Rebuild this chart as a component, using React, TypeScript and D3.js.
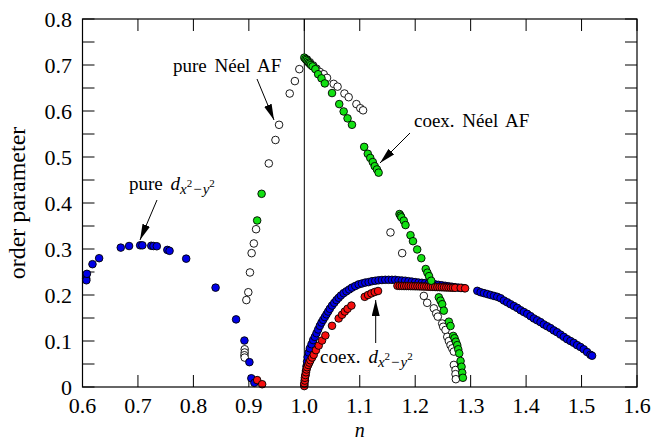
import React, { useEffect, useRef } from 'react';
import * as d3 from 'd3';

// [n, order parameter]
const pureD: [number, number][] = [
  [0.6067, 0.236], [0.607, 0.232], [0.608, 0.246], [0.618, 0.267], [0.63, 0.28],
  [0.669, 0.303], [0.684, 0.3065], [0.704, 0.308], [0.708, 0.308], [0.724, 0.307],
  [0.728, 0.3065], [0.734, 0.306], [0.753, 0.298], [0.757, 0.296], [0.787, 0.279],
  [0.84, 0.216], [0.877, 0.147], [0.892, 0.101], [0.901, 0.054], [0.9045, 0.019], [0.91, 0.009],
  [1.0, 0.005], [1.001, 0.015], [1.002, 0.025], [1.003, 0.035], [1.004, 0.045], [1.005, 0.055],
  [1.006, 0.065], [1.008, 0.075], [1.01, 0.084], [1.013, 0.093], [1.016, 0.102], [1.019, 0.109],
  [1.022, 0.117], [1.025, 0.125], [1.028, 0.133], [1.031, 0.14], [1.034, 0.146], [1.037, 0.152],
  [1.04, 0.158], [1.043, 0.164], [1.046, 0.17], [1.05, 0.177], [1.054, 0.183], [1.058, 0.189],
  [1.062, 0.194], [1.066, 0.199], [1.071, 0.204], [1.076, 0.208], [1.081, 0.212], [1.086, 0.216],
  [1.092, 0.2196], [1.098, 0.223], [1.104, 0.225], [1.11, 0.227], [1.116, 0.228], [1.122, 0.23],
  [1.128, 0.231], [1.134, 0.232], [1.14, 0.2326], [1.146, 0.233], [1.152, 0.233], [1.158, 0.233],
  [1.164, 0.233], [1.17, 0.232], [1.176, 0.2315], [1.182, 0.231], [1.188, 0.23], [1.194, 0.229],
  [1.2, 0.228], [1.206, 0.227], [1.212, 0.2265], [1.218, 0.226], [1.224, 0.225], [1.23, 0.224],
  [1.236, 0.223], [1.242, 0.222], [1.248, 0.221], [1.254, 0.22], [1.26, 0.219], [1.266, 0.218],
  [1.272, 0.217], [1.278, 0.216], [1.284, 0.2155], [1.288, 0.215],
  [1.312, 0.209], [1.318, 0.206], [1.324, 0.204], [1.33, 0.202], [1.336, 0.2], [1.342, 0.198],
  [1.348, 0.196], [1.354, 0.193], [1.36, 0.188], [1.366, 0.184], [1.372, 0.18], [1.378, 0.176],
  [1.384, 0.172], [1.39, 0.167], [1.396, 0.163], [1.402, 0.159], [1.408, 0.154], [1.414, 0.149],
  [1.42, 0.145], [1.426, 0.141], [1.432, 0.136], [1.438, 0.132], [1.444, 0.128], [1.45, 0.123],
  [1.456, 0.119], [1.462, 0.114], [1.468, 0.109], [1.474, 0.104], [1.48, 0.1], [1.486, 0.096],
  [1.492, 0.091], [1.498, 0.087], [1.504, 0.082], [1.51, 0.076], [1.516, 0.07], [1.519, 0.068],
];

const pureNeel: [number, number][] = [
  [0.8925, 0.082], [0.8925, 0.075], [0.892, 0.069], [0.8925, 0.064], [0.8955, 0.189],
  [0.899, 0.206], [0.902, 0.249], [0.905, 0.291], [0.909, 0.312], [0.913, 0.343],
  [0.936, 0.486], [0.948, 0.537], [0.9545, 0.57], [0.9737, 0.638], [0.983, 0.665], [0.991, 0.691],
  [1.005, 0.712], [1.01, 0.706], [1.016, 0.699], [1.022, 0.692], [1.028, 0.685], [1.035, 0.68],
  [1.041, 0.672], [1.053, 0.659], [1.06, 0.653], [1.0724, 0.638], [1.08, 0.63], [1.094, 0.615],
  [1.101, 0.606], [1.106, 0.6015],
  [1.1554, 0.336], [1.1765, 0.291], [1.2156, 0.198], [1.2216, 0.183], [1.2336, 0.171],
  [1.2379, 0.16], [1.2408, 0.153], [1.2487, 0.138], [1.2505, 0.131], [1.2547, 0.124],
  [1.2578, 0.109], [1.2607, 0.1], [1.2637, 0.091], [1.2668, 0.084], [1.2697, 0.077],
  [1.2697, 0.048], [1.2727, 0.037], [1.2727, 0.028], [1.2733, 0.017],
];

const coexD: [number, number][] = [
  [0.915, 0.015], [0.924, 0.006],
  [1.0, 0.002], [1.0, 0.008], [1.001, 0.014], [1.001, 0.02], [1.002, 0.026], [1.003, 0.032],
  [1.004, 0.038], [1.005, 0.043], [1.007, 0.048], [1.009, 0.053], [1.011, 0.058], [1.014, 0.064],
  [1.017, 0.07], [1.021, 0.08], [1.026, 0.09], [1.032, 0.101], [1.038, 0.112], [1.05, 0.133],
  [1.062, 0.149], [1.068, 0.157], [1.073, 0.164], [1.078, 0.17], [1.085, 0.177],
  [1.109, 0.196], [1.115, 0.2], [1.121, 0.2036], [1.127, 0.2065], [1.133, 0.2087],
  [1.168, 0.22], [1.172, 0.2198], [1.176, 0.2196], [1.18, 0.2195], [1.184, 0.2195], [1.188, 0.2194],
  [1.192, 0.2193], [1.196, 0.2192], [1.2, 0.219], [1.204, 0.219], [1.208, 0.2188], [1.212, 0.2186],
  [1.216, 0.2185], [1.22, 0.2183], [1.224, 0.218], [1.228, 0.2178], [1.232, 0.2176], [1.236, 0.2174],
  [1.24, 0.2172], [1.244, 0.217], [1.248, 0.2168], [1.252, 0.2166], [1.256, 0.2164], [1.26, 0.2162],
  [1.264, 0.216], [1.268, 0.2158], [1.272, 0.2156], [1.282, 0.2155], [1.29, 0.2145],
];

const coexNeel: [number, number][] = [
  [0.915, 0.362], [0.923, 0.42],
  [1.0, 0.716], [1.002, 0.713], [1.004, 0.711], [1.006, 0.708], [1.008, 0.705], [1.01, 0.703],
  [1.012, 0.7], [1.015, 0.697], [1.02, 0.691], [1.025, 0.68], [1.031, 0.671], [1.037, 0.66],
  [1.05, 0.639], [1.063, 0.615], [1.071, 0.599], [1.078, 0.584], [1.086, 0.57],
  [1.108, 0.522], [1.1145, 0.507], [1.119, 0.498], [1.1235, 0.489], [1.127, 0.48], [1.131, 0.473],
  [1.134, 0.466],
  [1.1717, 0.376], [1.1735, 0.3725], [1.175, 0.369], [1.1794, 0.3616], [1.1825, 0.352],
  [1.1915, 0.33], [1.196, 0.317], [1.2036, 0.299], [1.211, 0.28], [1.219, 0.2565], [1.222, 0.2485],
  [1.225, 0.241], [1.2289, 0.231], [1.2426, 0.195], [1.2457, 0.1877], [1.2487, 0.18], [1.2516, 0.166],
  [1.2607, 0.142], [1.2637, 0.1326], [1.2686, 0.111], [1.271, 0.106], [1.2733, 0.0985],
  [1.2758, 0.091], [1.2776, 0.082], [1.2794, 0.073], [1.2818, 0.0565], [1.2836, 0.044],
  [1.2848, 0.031], [1.286, 0.02],
];

const xTicks = [0.6, 0.7, 0.8, 0.9, 1.0, 1.1, 1.2, 1.3, 1.4, 1.5, 1.6];
const yTicks = [0, 0.1, 0.2, 0.3, 0.4, 0.5, 0.6, 0.7, 0.8];
const yMinor = d3.range(0, 0.801, 0.05);

const W = 653;
const H = 441;
const FONT = "'Liberation Serif', 'DejaVu Serif', 'Times New Roman', serif";

const App: React.FC = () => {
  const svgRef = useRef<SVGSVGElement>(null);

  useEffect(() => {
    if (!svgRef.current) return;
    const svg = d3.select(svgRef.current);
    svg.selectAll('*').remove();

    const x = d3.scaleLinear().domain([0.6, 1.6]).range([82.5, 637]);
    const y = d3.scaleLinear().domain([0, 0.8]).range([387, 19]);
    const [x0, x1] = x.range();
    const [y0, y1] = y.range();

    const defs = svg.append('defs');
    defs.append('marker')
      .attr('id', 'head')
      .attr('viewBox', '0 0 16 8')
      .attr('refX', 16).attr('refY', 4)
      .attr('markerWidth', 16).attr('markerHeight', 8)
      .attr('markerUnits', 'userSpaceOnUse')
      .attr('orient', 'auto')
      .append('path').attr('d', 'M0,0 L16,4 L0,8 Z').attr('fill', '#000');

    // ticks (inward, both sides)
    const ax = svg.append('g').attr('stroke', '#000').attr('stroke-width', 1);
    xTicks.forEach(t => {
      ax.append('line').attr('x1', x(t)).attr('x2', x(t)).attr('y1', y0).attr('y2', y0 - 12);
      ax.append('line').attr('x1', x(t)).attr('x2', x(t)).attr('y1', y1).attr('y2', y1 + 12);
    });
    yMinor.forEach(t => {
      ax.append('line').attr('x1', x0).attr('x2', x0 + 12).attr('y1', y(t)).attr('y2', y(t));
      ax.append('line').attr('x1', x1).attr('x2', x1 - 12).attr('y1', y(t)).attr('y2', y(t));
    });
    // vertical line at n = 1
    ax.append('line').attr('x1', x(1)).attr('x2', x(1)).attr('y1', y0).attr('y2', y1);

    const dot = (data: [number, number][], fill: string) => {
      svg.append('g').selectAll('circle').data(data).enter().append('circle')
        .attr('cx', d => x(d[0]))
        .attr('cy', d => y(d[1]))
        .attr('r', 3.8)
        .attr('fill', fill)
        .attr('stroke', '#000')
        .attr('stroke-width', 0.9);
    };
    dot(pureNeel, '#fff');
    dot(pureD, '#0000e6');
    dot(coexD, '#f50f0f');
    dot(coexNeel, '#12e012');

    svg.append('rect')
      .attr('x', x0).attr('y', y1)
      .attr('width', x1 - x0).attr('height', y0 - y1)
      .attr('fill', 'none').attr('stroke', '#000').attr('stroke-width', 1.2);

    // tick labels
    const lab = svg.append('g').style('font-family', FONT).style('font-size', '22px').attr('fill', '#000');
    xTicks.forEach(t => {
      lab.append('text').attr('x', x(t)).attr('y', 413).attr('text-anchor', 'middle')
        .text(t === 0 ? '0' : d3.format('.1f')(t));
    });
    yTicks.forEach(t => {
      lab.append('text').attr('x', 72).attr('y', y(t) + 7.5).attr('text-anchor', 'end')
        .text(t === 0 ? '0' : d3.format('.1f')(t));
    });

    lab.append('text').attr('x', (x0 + x1) / 2).attr('y', 436.5).attr('text-anchor', 'middle')
      .style('font-style', 'italic').style('font-size', '20px').text('n');
    lab.append('text')
      .attr('transform', `translate(25,${(y0 + y1) / 2}) rotate(-90)`)
      .attr('text-anchor', 'middle').style('font-size', '24px').text('order parameter');

    // annotations
    const ann = svg.append('g').style('font-family', FONT).style('font-size', '19px').attr('fill', '#000');
    ann.append('text').attr('x', 173).attr('y', 72).attr('word-spacing', 3).text('pure Néel AF');
    ann.append('text').attr('x', 414).attr('y', 127).attr('word-spacing', 3).text('coex. Néel AF');

    const dLabel = (lx: number, yb: number, prefix: string) => {
      const t = ann.append('text').attr('x', lx).attr('y', yb).attr('word-spacing', 3);
      t.append('tspan').text(prefix);
      t.append('tspan').style('font-style', 'italic').text('d');
      t.append('tspan').style('font-style', 'italic').style('font-size', '15px').attr('dy', 4).text('x');
      t.append('tspan').style('font-size', '11px').attr('dy', -7).text('2');
      t.append('tspan').style('font-size', '15px').attr('dx', 1).attr('dy', 7).text('−');
      t.append('tspan').style('font-style', 'italic').style('font-size', '15px').attr('dx', 1).text('y');
      t.append('tspan').style('font-size', '11px').attr('dy', -7).text('2');
    };
    dLabel(129, 190, 'pure ');
    dLabel(320, 363, 'coex. ');

    const arrow = (ax1: number, ay1: number, ax2: number, ay2: number) => {
      svg.append('line')
        .attr('x1', ax1).attr('y1', ay1).attr('x2', ax2).attr('y2', ay2)
        .attr('stroke', '#000').attr('stroke-width', 1)
        .attr('marker-end', 'url(#head)');
    };
    arrow(257, 79, 274, 120);
    arrow(157, 200, 140, 240);
    arrow(410, 133, 380, 163);
    arrow(375.7, 343, 375.7, 300);
  }, []);

  return (
    <div style={{ position: 'absolute', left: 0, top: 0 }}>
      <svg ref={svgRef} width={W} height={H} style={{ background: '#fff', display: 'block' }} />
    </div>
  );
};

export default App;
